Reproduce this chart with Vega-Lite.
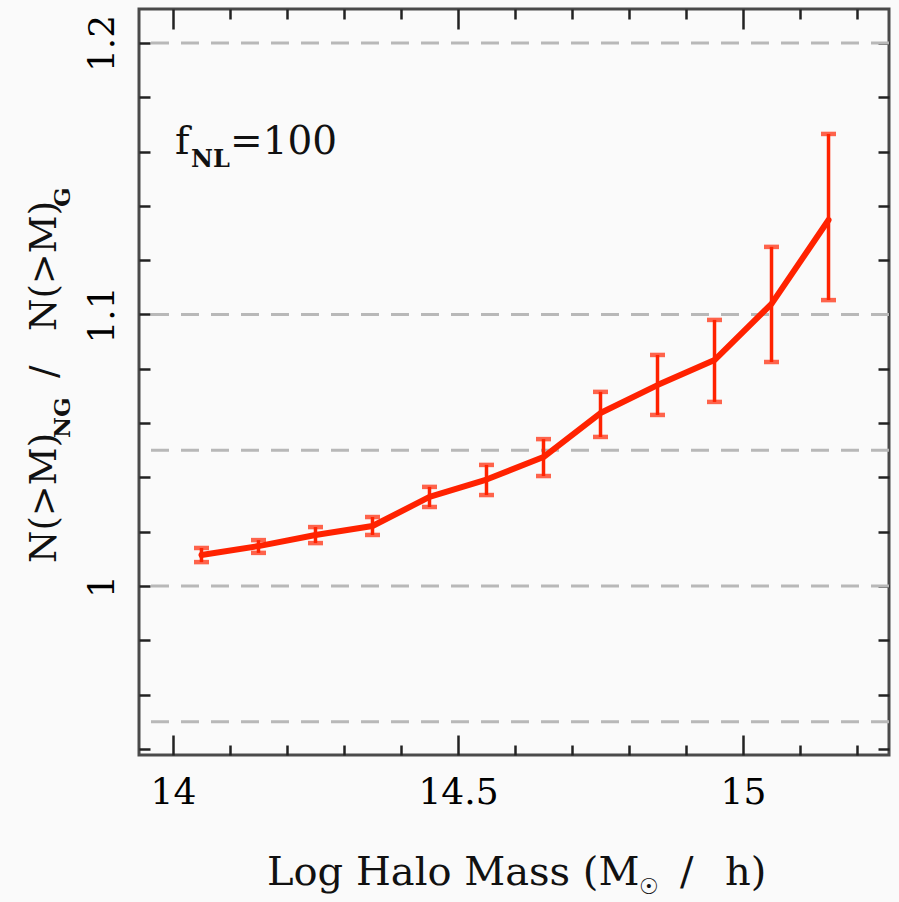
{
  "$schema": "https://vega.github.io/schema/vega-lite/v6.json",
  "width": 750,
  "height": 746,
  "autosize": {"type": "none"},
  "padding": {"left": 139, "top": 9, "right": 10, "bottom": 147},
  "background": "#fafafa",
  "config": {
    "view": {"stroke": "#4a4a4a", "strokeWidth": 3},
    "axis": {"labelFont": "DejaVu Serif", "labelFontSize": 36, "labelColor": "#111111", "tickColor": "#222222", "tickWidth": 2.5, "domain": false, "grid": false, "title": null},
    "text": {"font": "DejaVu Serif", "color": "#111111"}
  },
  "datasets": {
    "ratio": [
      {"m": 14.05, "r": 1.0114, "lo": 1.0088, "hi": 1.0140},
      {"m": 14.15, "r": 1.0147, "lo": 1.0122, "hi": 1.0169},
      {"m": 14.25, "r": 1.0188, "lo": 1.0158, "hi": 1.0217},
      {"m": 14.35, "r": 1.0221, "lo": 1.0188, "hi": 1.0254},
      {"m": 14.45, "r": 1.0328, "lo": 1.0291, "hi": 1.0365},
      {"m": 14.55, "r": 1.0392, "lo": 1.0335, "hi": 1.0446},
      {"m": 14.65, "r": 1.0475, "lo": 1.0405, "hi": 1.0541},
      {"m": 14.75, "r": 1.0637, "lo": 1.0549, "hi": 1.0715},
      {"m": 14.85, "r": 1.0740, "lo": 1.0630, "hi": 1.0851},
      {"m": 14.95, "r": 1.0832, "lo": 1.0678, "hi": 1.0980},
      {"m": 15.05, "r": 1.1039, "lo": 1.0825, "hi": 1.1249},
      {"m": 15.15, "r": 1.1348, "lo": 1.1053, "hi": 1.1665}
    ],
    "refs": [{"level": 0.95}, {"level": 1.0}, {"level": 1.05}, {"level": 1.1}, {"level": 1.2}],
    "one": [{"k": 1}]
  },
  "layer": [
    {
      "data": {"name": "refs"},
      "mark": {"type": "rule", "color": "#b8b8b8", "strokeWidth": 3, "strokeDash": [18, 12]},
      "encoding": {
        "y": {"field": "level", "type": "quantitative", "scale": {"domain": [0.93775, 1.21252], "nice": false, "zero": false}, "axis": null}
      }
    },
    {
      "data": {"name": "ratio"},
      "mark": {"type": "rule", "color": "#ff2200", "strokeWidth": 3.5},
      "encoding": {
        "x": {"field": "m", "type": "quantitative", "scale": {"domain": [13.9404, 15.2561], "nice": false, "zero": false},
          "axis": {"orient": "top", "labels": false, "values": [14, 14.1, 14.2, 14.3, 14.4, 14.5, 14.6, 14.7, 14.8, 14.9, 15, 15.1, 15.2],
            "tickSize": {"condition": {"test": "datum.value == 14 || datum.value == 14.5 || datum.value == 15", "value": -20}, "value": -10}}},
        "y": {"field": "lo", "type": "quantitative", "scale": {"domain": [0.93775, 1.21252], "nice": false, "zero": false},
          "axis": {"orient": "right", "labels": false, "values": [0.94, 0.96, 0.98, 1, 1.02, 1.04, 1.06, 1.08, 1.1, 1.12, 1.14, 1.16, 1.18, 1.2], "tickSize": -11}},
        "y2": {"field": "hi"}
      }
    },
    {
      "data": {"name": "ratio"},
      "mark": {"type": "tick", "orient": "horizontal", "color": "#ff2200", "size": 15, "thickness": 4.5},
      "encoding": {
        "x": {"field": "m", "type": "quantitative", "scale": {"domain": [13.9404, 15.2561], "nice": false, "zero": false}, "axis": null},
        "y": {"field": "lo", "type": "quantitative", "scale": {"domain": [0.93775, 1.21252], "nice": false, "zero": false}, "axis": null}
      }
    },
    {
      "data": {"name": "ratio"},
      "mark": {"type": "tick", "orient": "horizontal", "color": "#ff2200", "size": 15, "thickness": 4.5},
      "encoding": {
        "x": {"field": "m", "type": "quantitative", "scale": {"domain": [13.9404, 15.2561], "nice": false, "zero": false}, "axis": null},
        "y": {"field": "hi", "type": "quantitative", "scale": {"domain": [0.93775, 1.21252], "nice": false, "zero": false}, "axis": null}
      }
    },
    {
      "data": {"name": "ratio"},
      "mark": {"type": "line", "color": "#ff2200", "strokeWidth": 6, "strokeJoin": "round", "strokeCap": "round"},
      "encoding": {
        "x": {"field": "m", "type": "quantitative", "scale": {"domain": [13.9404, 15.2561], "nice": false, "zero": false},
          "axis": {"orient": "bottom", "values": [14, 14.1, 14.2, 14.3, 14.4, 14.5, 14.6, 14.7, 14.8, 14.9, 15, 15.1, 15.2], "format": ".1~f",
            "labelExpr": "datum.value == 14 || datum.value == 14.5 || datum.value == 15 ? datum.label : ''",
            "labelPadding": 40, "labelFlush": false, "labelOverlap": false, "labelColor": "#000000",
            "tickSize": {"condition": {"test": "datum.value == 14 || datum.value == 14.5 || datum.value == 15", "value": -20}, "value": -10}}},
        "y": {"field": "r", "type": "quantitative", "scale": {"domain": [0.93775, 1.21252], "nice": false, "zero": false},
          "axis": {"orient": "left", "values": [0.94, 0.96, 0.98, 1, 1.02, 1.04, 1.06, 1.08, 1.1, 1.12, 1.14, 1.16, 1.18, 1.2], "format": ".2~f",
            "labelExpr": "datum.value == 1 || datum.value == 1.1 || datum.value == 1.2 ? datum.label : ''",
            "labelAngle": 270, "labelAlign": "center", "labelBaseline": "alphabetic", "labelPadding": 37, "labelFlush": false, "labelOverlap": false, "labelColor": "#000000",
            "tickSize": -11}}
      }
    },
    {
      "data": {"name": "one"},
      "mark": {"type": "text", "text": "f", "align": "left", "baseline": "alphabetic", "fontSize": 39},
      "encoding": {
        "x": {"datum": 14.0035, "type": "quantitative", "scale": {"domain": [13.9404, 15.2561], "nice": false, "zero": false}, "axis": null},
        "y": {"datum": 1.1591, "type": "quantitative", "scale": {"domain": [0.93775, 1.21252], "nice": false, "zero": false}, "axis": null}
      }
    },
    {
      "data": {"name": "one"},
      "mark": {"type": "text", "text": "NL", "align": "left", "baseline": "alphabetic", "fontSize": 24, "fontWeight": "bold"},
      "encoding": {
        "x": {"datum": 14.0316, "type": "quantitative", "scale": {"domain": [13.9404, 15.2561], "nice": false, "zero": false}, "axis": null},
        "y": {"datum": 1.1543, "type": "quantitative", "scale": {"domain": [0.93775, 1.21252], "nice": false, "zero": false}, "axis": null}
      }
    },
    {
      "data": {"name": "one"},
      "mark": {"type": "text", "text": "=100", "align": "left", "baseline": "alphabetic", "fontSize": 39},
      "encoding": {
        "x": {"datum": 14.1, "type": "quantitative", "scale": {"domain": [13.9404, 15.2561], "nice": false, "zero": false}, "axis": null},
        "y": {"datum": 1.1591, "type": "quantitative", "scale": {"domain": [0.93775, 1.21252], "nice": false, "zero": false}, "axis": null}
      }
    },
    {
      "data": {"name": "one"},
      "mark": {"type": "text", "text": "N(>M)", "angle": 270, "align": "left", "baseline": "alphabetic", "fontSize": 37},
      "encoding": {
        "x": {"datum": 13.7947, "type": "quantitative", "scale": {"domain": [13.9404, 15.2561], "nice": false, "zero": false}, "axis": null},
        "y": {"datum": 1.00847, "type": "quantitative", "scale": {"domain": [0.93775, 1.21252], "nice": false, "zero": false}, "axis": null}
      }
    },
    {
      "data": {"name": "one"},
      "mark": {"type": "text", "text": "NG", "angle": 270, "align": "left", "baseline": "alphabetic", "fontSize": 23, "fontWeight": "bold"},
      "encoding": {
        "x": {"datum": 13.8193, "type": "quantitative", "scale": {"domain": [13.9404, 15.2561], "nice": false, "zero": false}, "axis": null},
        "y": {"datum": 1.05451, "type": "quantitative", "scale": {"domain": [0.93775, 1.21252], "nice": false, "zero": false}, "axis": null}
      }
    },
    {
      "data": {"name": "one"},
      "mark": {"type": "text", "text": "/", "angle": 270, "align": "left", "baseline": "alphabetic", "fontSize": 37},
      "encoding": {
        "x": {"datum": 13.7947, "type": "quantitative", "scale": {"domain": [13.9404, 15.2561], "nice": false, "zero": false}, "axis": null},
        "y": {"datum": 1.07661, "type": "quantitative", "scale": {"domain": [0.93775, 1.21252], "nice": false, "zero": false}, "axis": null}
      }
    },
    {
      "data": {"name": "one"},
      "mark": {"type": "text", "text": "N(>M)", "angle": 270, "align": "left", "baseline": "alphabetic", "fontSize": 37},
      "encoding": {
        "x": {"datum": 13.7947, "type": "quantitative", "scale": {"domain": [13.9404, 15.2561], "nice": false, "zero": false}, "axis": null},
        "y": {"datum": 1.09392, "type": "quantitative", "scale": {"domain": [0.93775, 1.21252], "nice": false, "zero": false}, "axis": null}
      }
    },
    {
      "data": {"name": "one"},
      "mark": {"type": "text", "text": "G", "angle": 270, "align": "left", "baseline": "alphabetic", "fontSize": 23, "fontWeight": "bold"},
      "encoding": {
        "x": {"datum": 13.8193, "type": "quantitative", "scale": {"domain": [13.9404, 15.2561], "nice": false, "zero": false}, "axis": null},
        "y": {"datum": 1.1396, "type": "quantitative", "scale": {"domain": [0.93775, 1.21252], "nice": false, "zero": false}, "axis": null}
      }
    },
    {
      "data": {"name": "one"},
      "mark": {"type": "text", "text": "Log Halo Mass (M", "align": "left", "baseline": "alphabetic", "fontSize": 40},
      "encoding": {
        "x": {"datum": 14.1649, "type": "quantitative", "scale": {"domain": [13.9404, 15.2561], "nice": false, "zero": false}, "axis": null},
        "y": {"datum": 0.88987, "type": "quantitative", "scale": {"domain": [0.93775, 1.21252], "nice": false, "zero": false}, "axis": null}
      }
    },
    {
      "data": {"name": "one"},
      "mark": {"type": "text", "text": "☉", "align": "left", "baseline": "alphabetic", "fontSize": 22},
      "encoding": {
        "x": {"datum": 14.8175, "type": "quantitative", "scale": {"domain": [13.9404, 15.2561], "nice": false, "zero": false}, "axis": null},
        "y": {"datum": 0.8866, "type": "quantitative", "scale": {"domain": [0.93775, 1.21252], "nice": false, "zero": false}, "axis": null}
      }
    },
    {
      "data": {"name": "one"},
      "mark": {"type": "text", "text": "/", "align": "left", "baseline": "alphabetic", "fontSize": 40},
      "encoding": {
        "x": {"datum": 14.8895, "type": "quantitative", "scale": {"domain": [13.9404, 15.2561], "nice": false, "zero": false}, "axis": null},
        "y": {"datum": 0.88987, "type": "quantitative", "scale": {"domain": [0.93775, 1.21252], "nice": false, "zero": false}, "axis": null}
      }
    },
    {
      "data": {"name": "one"},
      "mark": {"type": "text", "text": "h)", "align": "left", "baseline": "alphabetic", "fontSize": 40},
      "encoding": {
        "x": {"datum": 14.9684, "type": "quantitative", "scale": {"domain": [13.9404, 15.2561], "nice": false, "zero": false}, "axis": null},
        "y": {"datum": 0.88987, "type": "quantitative", "scale": {"domain": [0.93775, 1.21252], "nice": false, "zero": false}, "axis": null}
      }
    }
  ],
  "resolve": {"axis": {"x": "independent", "y": "independent"}}
}
